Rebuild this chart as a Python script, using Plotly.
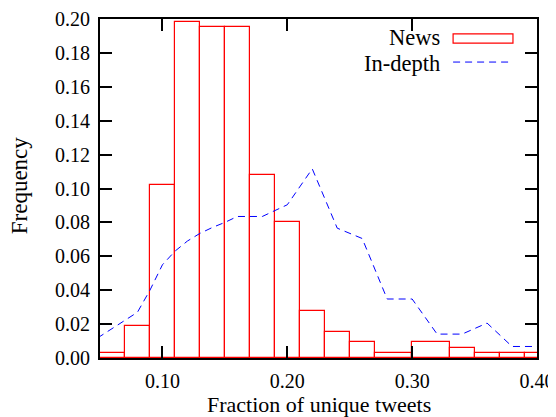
import plotly.graph_objects as go

# News histogram (bin centres and frequencies)
news_x = [0.06, 0.08, 0.10, 0.12, 0.14, 0.16, 0.18, 0.20, 0.22, 0.24, 0.26, 0.28,
          0.32, 0.34, 0.36, 0.38, 0.40]
news_y = [0.003, 0.019, 0.102, 0.198, 0.195, 0.195, 0.108, 0.0805, 0.0277, 0.0153,
          0.0092, 0.003, 0.0092, 0.006, 0.003, 0.003, 0.003]

# In-depth distribution
indepth_x = [0.04, 0.06, 0.08, 0.09, 0.10, 0.11, 0.12, 0.13, 0.14, 0.15, 0.16, 0.18,
             0.20, 0.22, 0.24, 0.26, 0.28, 0.30, 0.32, 0.34, 0.36, 0.38, 0.40]
indepth_y = [0.008, 0.0176, 0.027, 0.040, 0.055, 0.063, 0.069, 0.0735, 0.077, 0.080,
             0.0835, 0.0835, 0.0904, 0.1116, 0.0766, 0.0705, 0.0348, 0.0348, 0.0141,
             0.0141, 0.0206, 0.0068, 0.0068]

x_ticks = [0.10, 0.20, 0.30, 0.40]
y_ticks = [0.00, 0.02, 0.04, 0.06, 0.08, 0.10, 0.12, 0.14, 0.16, 0.18, 0.20]

# box edges halfway between neighbouring centres (gnuplot "boxes" style)
n = len(news_x)
lefts, rights = [], []
for i in range(n):
    l = (news_x[i - 1] + news_x[i]) / 2 if i > 0 else news_x[i] - (news_x[i + 1] - news_x[i]) / 2
    r = (news_x[i] + news_x[i + 1]) / 2 if i < n - 1 else news_x[i] + (news_x[i] - news_x[i - 1]) / 2
    lefts.append(l)
    rights.append(r)
bar_mid = [(l + r) / 2 for l, r in zip(lefts, rights)]
bar_w = [r - l for l, r in zip(lefts, rights)]

SERIF = "Liberation Serif, Times New Roman, serif"

fig = go.Figure()
fig.add_trace(go.Bar(
    x=bar_mid, y=news_y, width=bar_w,
    marker=dict(color="rgba(0,0,0,0)", line=dict(color="#ff0000", width=1.2)),
    showlegend=False, name="News",
))
fig.add_trace(go.Scatter(
    x=indepth_x, y=indepth_y, mode="lines",
    line=dict(color="#0000ff", width=1, dash="7px,5px"),
    showlegend=False, name="In-depth",
))

axis_common = dict(
    showgrid=False, zeroline=False, showline=True, linecolor="black", linewidth=2,
    mirror="allticks", ticks="inside", ticklen=12, tickwidth=2, tickcolor="black",
    tickfont=dict(family=SERIF, size=20, color="black"), automargin=False,
    ticklabelstandoff=4,
)
fig.update_xaxes(range=[0.05, 0.40], tickvals=x_ticks,
                 ticktext=[f"{v:.2f}" for v in x_ticks], **axis_common)
fig.update_yaxes(range=[0, 0.20], tickvals=y_ticks,
                 ticktext=[f"{v:.2f}" for v in y_ticks], **axis_common)

# axis titles
fig.add_annotation(xref="paper", yref="paper", x=0.5, y=-0.137, text="Fraction of unique tweets",
                   showarrow=False, xanchor="center", yanchor="middle",
                   font=dict(family=SERIF, size=22, color="black"))
fig.add_annotation(xref="paper", yref="paper", x=-0.185, y=0.51, text="Frequency",
                   showarrow=False, xanchor="center", yanchor="middle", textangle=-90,
                   font=dict(family=SERIF, size=23, color="black"))

# legend (text left of sample, as in the original)
fig.add_annotation(xref="paper", yref="paper", x=0.780, y=0.944, text="News",
                   showarrow=False, xanchor="right", yanchor="middle", borderpad=0,
                   font=dict(family=SERIF, size=22.5, color="black"))
fig.add_annotation(xref="paper", yref="paper", x=0.780, y=0.870, text="In-depth",
                   showarrow=False, xanchor="right", yanchor="middle", borderpad=0,
                   font=dict(family=SERIF, size=22.5, color="black"))
fig.add_shape(type="rect", xref="paper", yref="paper", x0=0.808, x1=0.945, y0=0.929, y1=0.956,
              line=dict(color="#ff0000", width=1.2), fillcolor="rgba(0,0,0,0)")
fig.add_shape(type="line", xref="paper", yref="paper", x0=0.808, x1=0.945, y0=0.873, y1=0.873,
              line=dict(color="#0000ff", width=1, dash="7px,5px"))

# the page adds an 8px body margin; margins below compensate so the plot area
# lands at the same window position as in the original
fig.update_layout(
    width=556, height=417,
    margin=dict(l=92, r=27, t=11, b=67),
    paper_bgcolor="white", plot_bgcolor="white",
    bargap=0,
    font=dict(family=SERIF, color="black"),
)

fig.write_html("out.html")
